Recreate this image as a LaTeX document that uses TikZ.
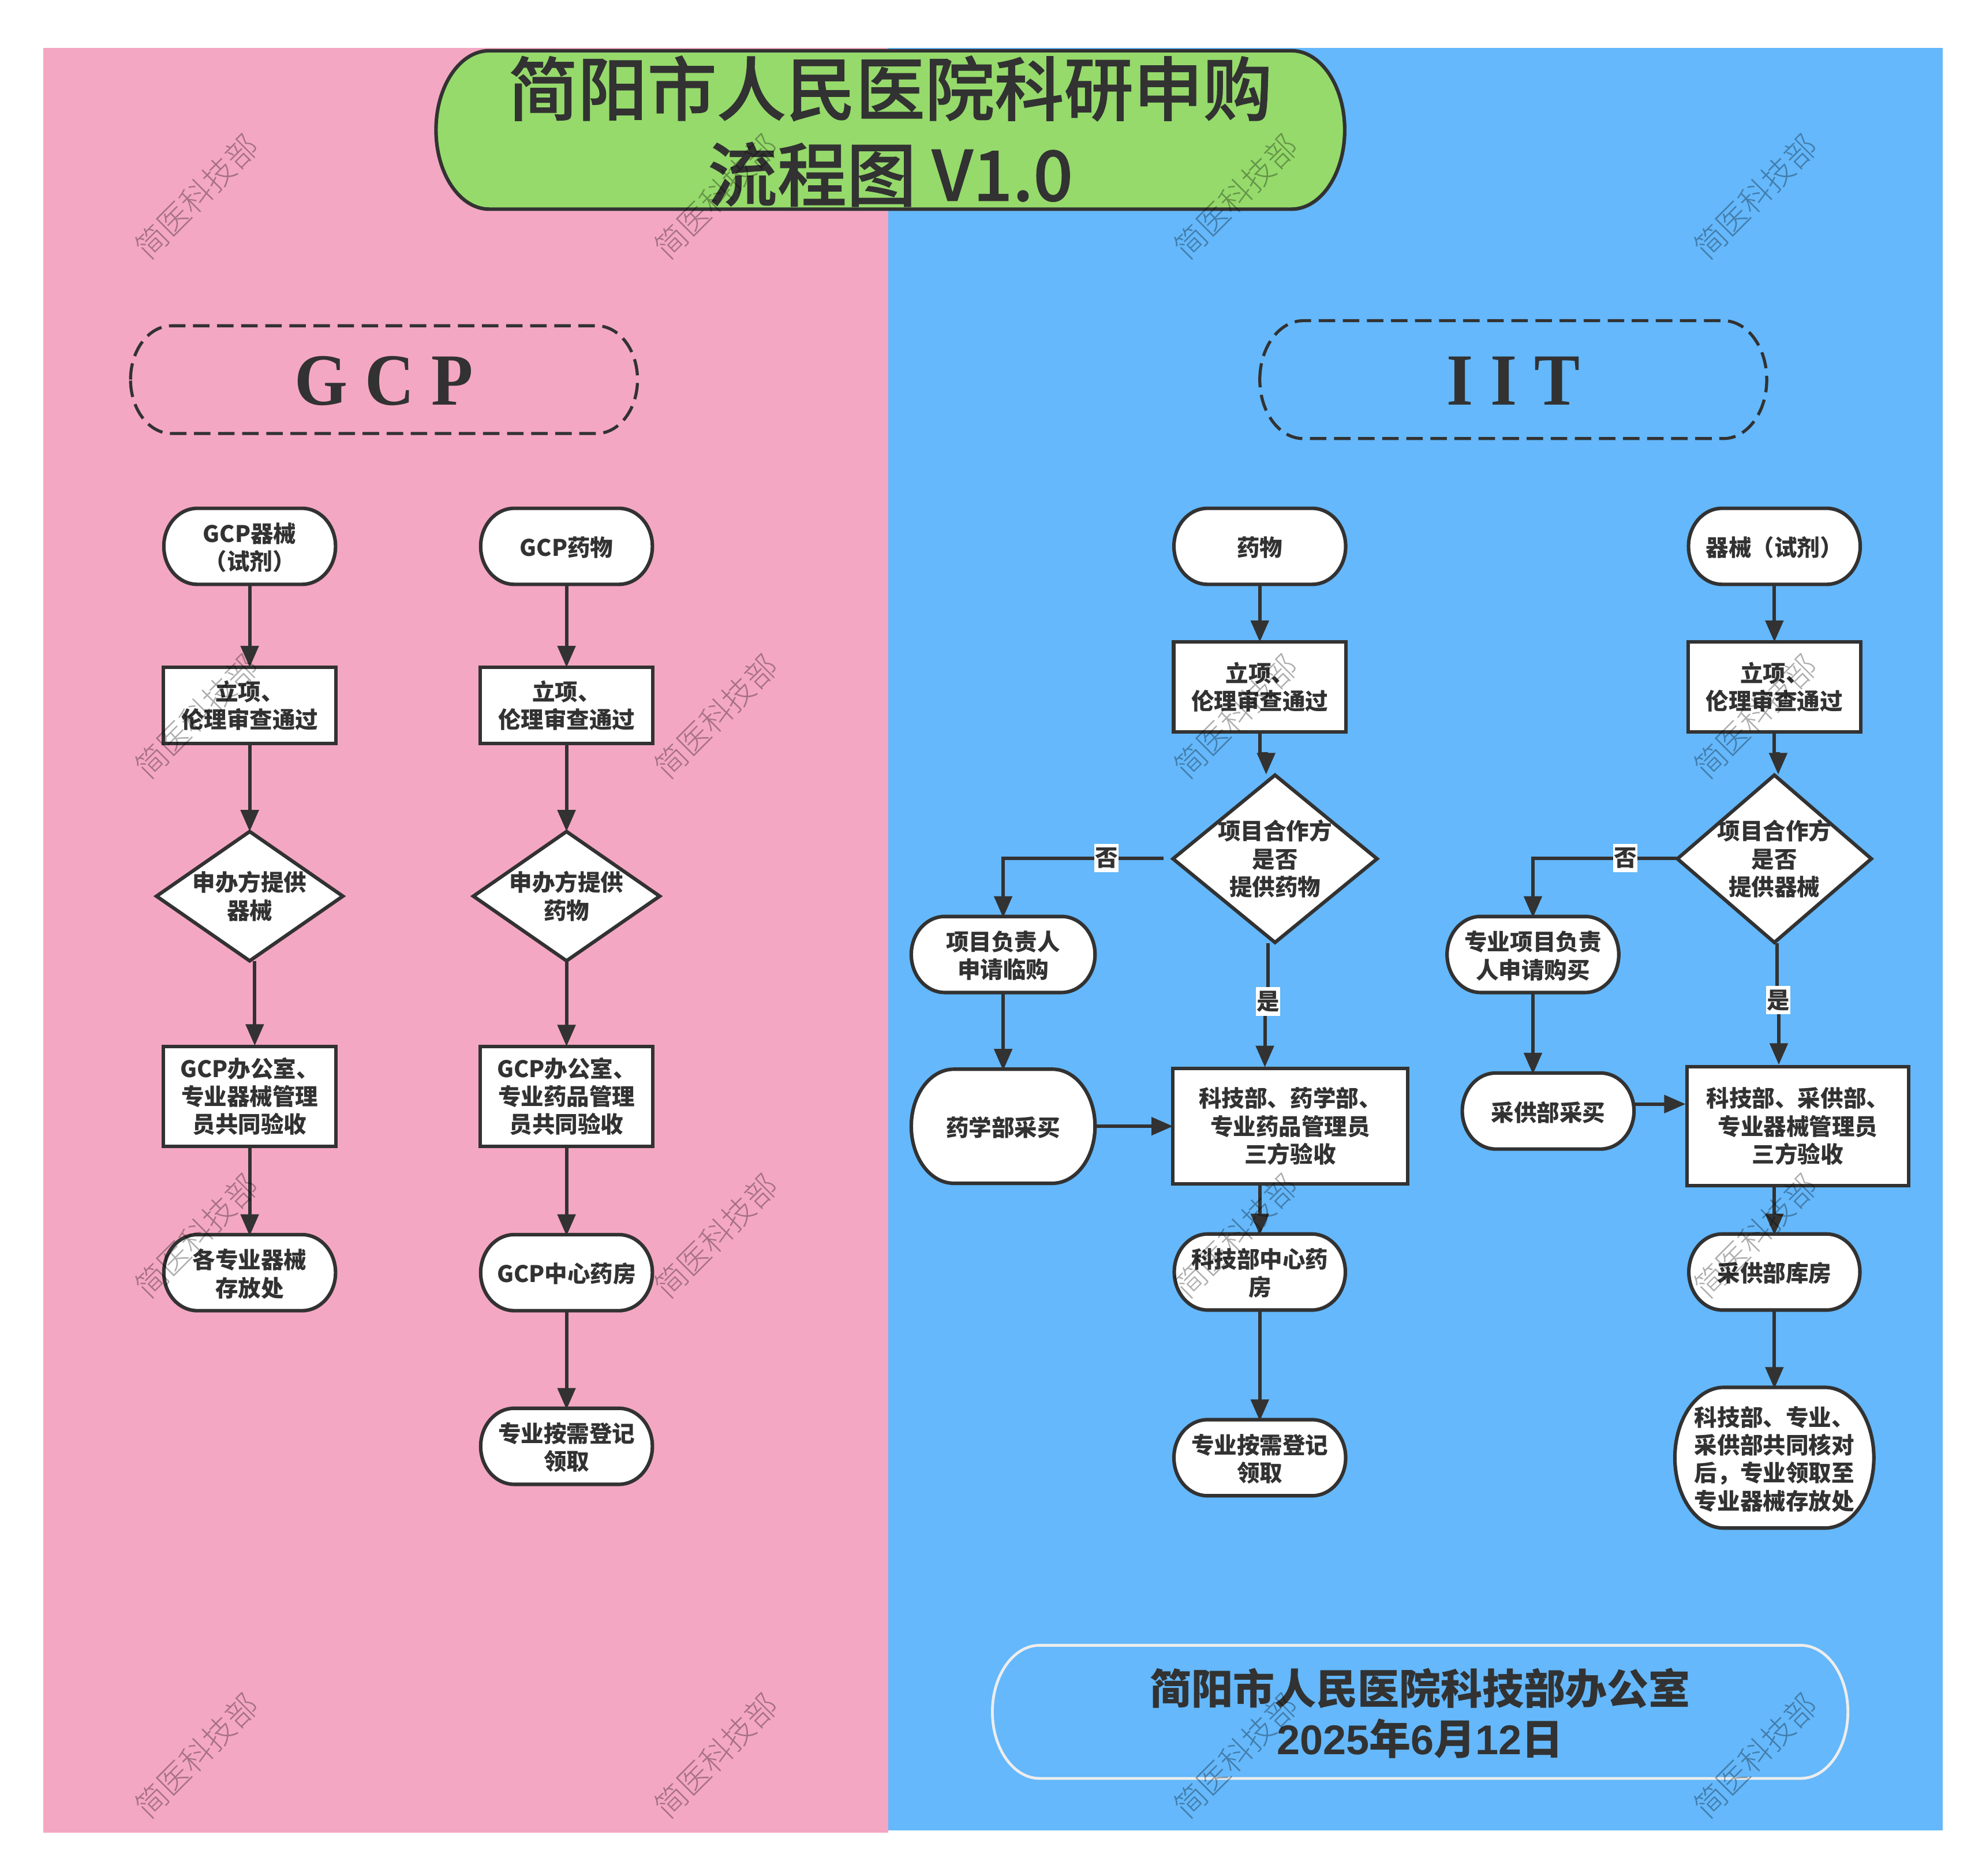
\documentclass[tikz,border=0pt]{standalone}
\usepackage{fontspec}
\setmainfont{Noto Sans CJK SC}
\newfontfamily\headfont{Liberation Serif}[FakeStretch=0.93]
\newfontfamily\stampfont{Noto Sans CJK SC Light}
\newfontfamily\titlefont{Noto Sans CJK SC Medium}[FakeBold=0.9]
\newfontfamily\datefont{Liberation Sans}
\usetikzlibrary{shapes.geometric,arrows.meta}

% rounded box with elliptical corners: name, style, x, y, width, height, text
\newcommand{\capsule}[7]{
    \pgfmathsetmacro\rx{12+0.24*#6}
    \pgfmathsetmacro\ry{#6/2}
    \draw[#2] ({#3-#5/2},#4) arc[start angle=180,end angle=270,x radius=\rx,y radius=\ry]
        -- ++({#5-2*\rx},0) arc[start angle=270,end angle=360,x radius=\rx,y radius=\ry]
        arc[start angle=0,end angle=90,x radius=\rx,y radius=\ry]
        -- ++({2*\rx-#5},0) arc[start angle=90,end angle=180,x radius=\rx,y radius=\ry] -- cycle;
    \node[label_box, minimum width=#5*0.5pt, minimum height=#6*0.5pt, yshift=-0.5pt] (#1) at (#3,#4) {#7};
}
\newcommand{\titlesize}{\titlefont\mdseries\fontsize{27.4}{34}\selectfont}
\newcommand{\officesize}{\fontsize{16.4}{20}\selectfont}
\newcommand{\digits}[1]{{\datefont #1}}
\newcommand{\headsize}{\headfont\fontsize{29}{32}\selectfont}

\begin{document}
\begin{tikzpicture}[x=0.5pt,y=-0.5pt,
    label_box/.style={rectangle,inner sep=0pt,outer sep=0pt,align=center,text=my_dark,
        font=\bfseries\fontsize{9}{11}\selectfont},
    capsule_white/.style={draw=my_dark,fill=white,line width=1.4pt},
    rect_box/.style={label_box,draw=my_dark,fill=white,line width=1.4pt,yshift=-0.25pt},
    dia_box/.style={diamond,inner sep=-12pt,outer sep=0pt,align=center,text=my_dark,draw=my_dark,
        fill=white,line width=1.4pt,font=\bfseries\fontsize{9}{11}\selectfont},
    arrow_line/.style={draw=my_dark,line width=1.35pt,-{Triangle[length=8.5pt,width=7pt]}},
    branch_label/.style={fill=white,inner xsep=0.3pt,inner ysep=1.5pt,text=my_dark,
        font=\bfseries\fontsize{9}{11}\selectfont},
    stamp_label/.style={rotate=45,text=black,text opacity=0.32,font=\stampfont\fontsize{12.5}{14}\selectfont}]
\definecolor{my_pink}{RGB}{244,167,194}
\definecolor{my_blue}{RGB}{100,184,251}
\definecolor{my_green}{RGB}{149,218,107}
\definecolor{my_dark}{RGB}{50,50,50}

\useasboundingbox (0,0) rectangle (1567,1479.6);
\fill[my_pink] (34,38) rectangle (701,1446);
\fill[my_blue] (701,38) rectangle (1533,1444);

% title and the two headings
\capsule{title}{draw=my_dark,fill=my_green,line width=1.4pt}{702.5}{102.5}{717}{125}{\titlesize 简阳市人民医院科研申购\\[7.2pt]\titlesize 流程图 V1.0}
\capsule{head_gcp}{draw=my_dark,line width=1.2pt,dash pattern=on 6.5pt off 3pt}{303}{299.5}{400}{85}{\raisebox{-1pt}{\headsize G C P}}
\capsule{head_iit}{draw=my_dark,line width=1.2pt,dash pattern=on 6.5pt off 3pt}{1194}{299.5}{400}{93}{\raisebox{-1pt}{\headsize I I T}}
\capsule{office}{draw=white!93!black,line width=1.1pt}{1120.5}{1350.5}{675}{105}{\raisebox{0.5pt}{\officesize 简阳市人民医院科技部办公室}\\[3pt]\officesize \digits{2025}年\digits{6}月\digits{12}日}

% GCP columns
\capsule{ga1}{capsule_white}{197}{431}{135.5}{60}{GCP器械\\（试剂）}
\capsule{gb1}{capsule_white}{447}{431}{135.5}{60}{GCP药物}
\foreach \nm/\xc in {ga/197,gb/447} {
    \node[rect_box,minimum width=68pt,minimum height=30pt] (\nm2) at (\xc,556) {立项、\\伦理审查通过};
}
\node[dia_box,minimum width=73.5pt,minimum height=51pt,aspect=1.45] (ga3) at (197,707) {申办方提供\\器械};
\node[dia_box,minimum width=73.5pt,minimum height=51pt,aspect=1.45] (gb3) at (447,707) {申办方提供\\药物};
\node[rect_box,minimum width=68pt,minimum height=39.5pt] (ga4) at (197,864.5) {GCP办公室、\\专业器械管理\\员共同验收};
\node[rect_box,minimum width=68pt,minimum height=39.5pt] (gb4) at (447,864.5) {GCP办公室、\\专业药品管理\\员共同验收};
\capsule{ga5}{capsule_white}{197}{1004}{135.5}{60}{各专业器械\\存放处}
\capsule{gb5}{capsule_white}{447}{1004}{135.5}{60}{GCP中心药房}
\capsule{gb6}{capsule_white}{447}{1141}{135.5}{60}{专业按需登记\\领取}

% IIT drug column
\capsule{ia1}{capsule_white}{994}{431}{135.5}{60}{药物}
\node[rect_box,minimum width=68pt,minimum height=35.5pt] (ia2) at (994,541.5) {立项、\\伦理审查通过};
\node[dia_box,minimum width=80.5pt,minimum height=66pt,aspect=1.23] (ia3) at (1006,677.5) {项目合作方\\是否\\提供药物};
\capsule{ia4}{capsule_white}{791.5}{753}{145}{60}{项目负责人\\申请临购}
\capsule{ia5}{capsule_white}{791.5}{888.5}{145}{90}{药学部采买}
\node[rect_box,minimum width=92.5pt,minimum height=45.5pt] (ia6) at (1018,888) {科技部、药学部、\\专业药品管理员\\三方验收};
\capsule{ia7}{capsule_white}{994}{1003.5}{135}{60}{科技部中心药\\房}
\capsule{ia8}{capsule_white}{994}{1150}{135.5}{60}{专业按需登记\\领取}

% IIT device column
\capsule{ib1}{capsule_white}{1400}{431}{135.5}{60}{器械（试剂）}
\node[rect_box,minimum width=68pt,minimum height=35.5pt] (ib2) at (1400,541.5) {立项、\\伦理审查通过};
\node[dia_box,minimum width=76.5pt,minimum height=66pt,aspect=1.16] (ib3) at (1400,677.5) {项目合作方\\是否\\提供器械};
\capsule{ib4}{capsule_white}{1209.5}{753}{135.5}{60}{专业项目负责\\人申请购买}
\capsule{ib5}{capsule_white}{1221.5}{876.5}{135.5}{60}{采供部采买}
\node[rect_box,minimum width=87.5pt,minimum height=47pt] (ib6) at (1418.5,888) {科技部、采供部、\\专业器械管理员\\三方验收};
\capsule{ib7}{capsule_white}{1400}{1003.5}{135}{60}{采供部库房}
\capsule{ib8}{capsule_white}{1400}{1150}{157}{111}{科技部、专业、\\采供部共同核对\\后，专业领取至\\专业器械存放处}

% free ends of the connectors that leave or enter a box off centre
\coordinate (ga4in) at (201,825);
\coordinate (ia3in) at (999,611);
\coordinate (ia3out) at (1000.5,744);
\coordinate (ia6in) at (998,842);
\coordinate (ib3in) at (1403,611);
\coordinate (ib3out) at (1402,744);
\coordinate (ib6in) at (1403.5,840);
\coordinate (ia3left) at (918,677);
\coordinate (ib3left) at (1323,677);
\coordinate (ib6left) at (1330,871);

\foreach \a/\b in {ga1/ga2,ga2/ga3,ga4/ga5,gb1/gb2,gb2/gb3,gb3/gb4,gb4/gb5,gb5/gb6,ia1/ia2,ia4/ia5,ia7/ia8,ib1/ib2,ib7/ib8} {
    \draw[arrow_line] (\a.south) -- (\b.north);
}
\draw[arrow_line] (ga3.south-|ga4in) -- (ga4in);
\draw[arrow_line] (ia2.south) -- ++(0,17) -| (ia3in);
\draw[arrow_line] (ib2.south) -- ++(0,17) -| (ib3in);
\draw[arrow_line] (ia3left) -| (ia4.north);
\draw[arrow_line] (ib3left) -| (ib4.north);
\draw[arrow_line] (ib4.south) -- (ib4.south|-ib5.north);
\draw[arrow_line] (ia5.east|-ia6.west) -- (ia6.west);
\draw[arrow_line] (ib5.east|-ib6left) -- (ib6left);
\draw[arrow_line] (ia6.south-|ia7.north) -- (ia7.north);
\draw[arrow_line] (ib6.south-|ib7.north) -- (ib7.north);
\draw[arrow_line] (ia3out) -- ++(0,46) -| (ia6in);
\draw[arrow_line] (ib3out) -- ++(0,46) -| (ib6in);
\node[branch_label] (no_a) at (873,677) {否};
\node[branch_label] (no_b) at (1282.5,677) {否};
\node[branch_label] (yes_a) at (1000.5,790) {是};
\node[branch_label] (yes_b) at (1403,789) {是};

\foreach \yy [count=\yi] in {155,565,975,1385} {
    \foreach \xx [count=\xi] in {155,565,975,1385} {
        \node[stamp_label] (stamp\yi\xi) at (\xx,\yy) {简医科技部};
    }
}
\end{tikzpicture}
\end{document}
